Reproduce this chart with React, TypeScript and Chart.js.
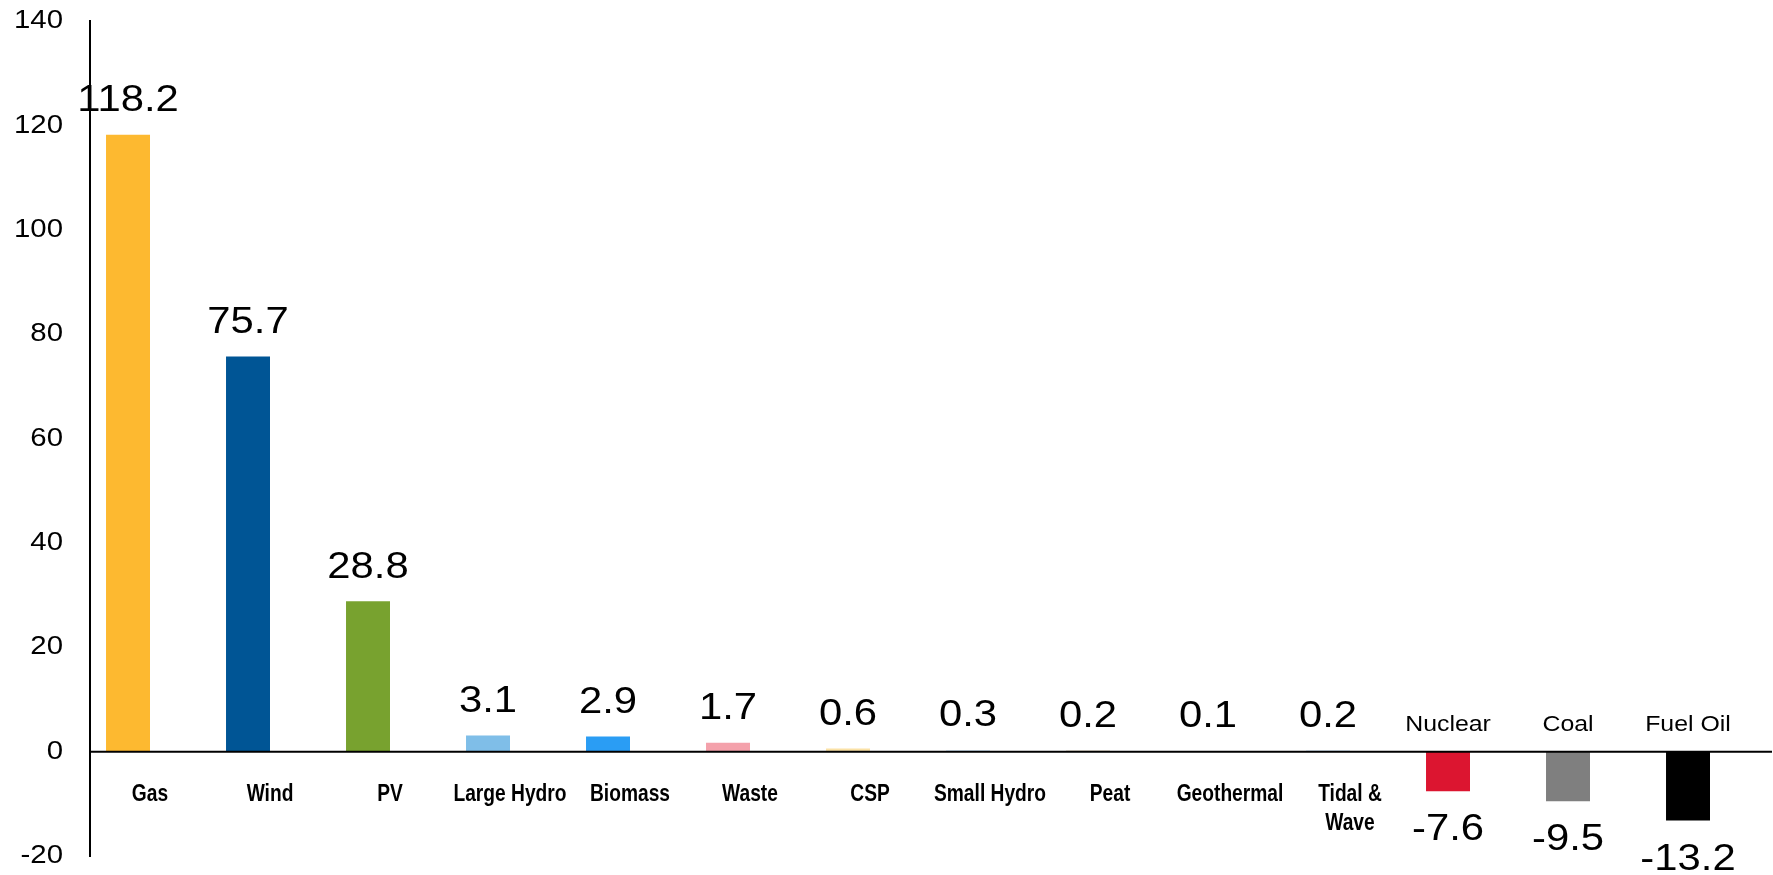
import React, { useEffect, useRef } from "react";
import { Chart, registerables } from "chart.js";

Chart.register(...registerables);

const categories = [
  "Gas", "Wind", "PV", "Large Hydro", "Biomass", "Waste", "CSP",
  "Small Hydro", "Peat", "Geothermal", "Tidal & Wave", "Nuclear", "Coal", "Fuel Oil",
];
const categoryLines = [
  ["Gas"], ["Wind"], ["PV"], ["Large Hydro"], ["Biomass"], ["Waste"], ["CSP"],
  ["Small Hydro"], ["Peat"], ["Geothermal"], ["Tidal &", "Wave"], ["Nuclear"], ["Coal"], ["Fuel Oil"],
];
const values = [118.2, 75.7, 28.8, 3.1, 2.9, 1.7, 0.6, 0.3, 0.2, 0.1, 0.2, -7.6, -9.5, -13.2];
const valueLabels = ["118.2", "75.7", "28.8", "3.1", "2.9", "1.7", "0.6", "0.3", "0.2", "0.1", "0.2", "-7.6", "-9.5", "-13.2"];
const barColors = [
  "#FDB930", "#005595", "#78A22F", "#7FBEE8", "#2A9DF4", "#F4A1AB", "#FBE2A6",
  "#D9E9F6", "#D8CBB5", "#E8C8A0", "#BFD9EE", "#DC1530", "#7F7F7F", "#000000",
];
const yMin = -20;
const yMax = 140;
const yStep = 20;

const REG = "'Liberation Sans', Arial, sans-serif";

function stretchText(ctx: CanvasRenderingContext2D, text: string, x: number, y: number, sx: number) {
  ctx.save();
  ctx.translate(x, y);
  ctx.scale(sx, 1);
  ctx.fillText(text, 0, 0);
  ctx.restore();
}

const labelPlugin = {
  id: "labelPlugin",
  afterDatasetsDraw(chart: any) {
    const ctx: CanvasRenderingContext2D = chart.ctx;
    const xs = chart.scales.x;
    const ys = chart.scales.y;
    const area = chart.chartArea;
    const y0 = ys.getPixelForValue(0);
    const meta = chart.getDatasetMeta(0);

    ctx.save();
    // zero line
    ctx.strokeStyle = "#000";
    ctx.lineWidth = 2;
    ctx.beginPath();
    ctx.moveTo(area.left, y0);
    ctx.lineTo(area.right + 2, y0);
    ctx.stroke();

    ctx.fillStyle = "#000";
    ctx.textBaseline = "middle";

    // y tick labels
    ctx.textAlign = "right";
    ctx.font = `26px ${REG}`;
    ys.ticks.forEach((t: any) => {
      const py = ys.getPixelForValue(t.value);
      stretchText(ctx, String(t.value), 63, py, 1.13);
    });

    ctx.textAlign = "center";
    meta.data.forEach((bar: any, i: number) => {
      const v = values[i];
      // value labels
      ctx.font = `37px ${REG}`;
      if (v >= 0) {
        stretchText(ctx, valueLabels[i], bar.x, bar.y - 34, 1.13);
      } else {
        stretchText(ctx, valueLabels[i], bar.x, bar.y + 39, 1.13);
      }
      // category labels
      if (v >= 0) {
        ctx.font = `bold 24px ${REG}`;
        const cx = xs.getPixelForValue(i);
        categoryLines[i].forEach((line, k) => {
          stretchText(ctx, line, cx, y0 + 43 + k * 29, 0.8);
        });
      } else {
        ctx.font = `22px ${REG}`;
        stretchText(ctx, categories[i], bar.x, y0 - 27, 1.13);
      }
    });
    ctx.restore();
  },
};

export default function App() {
  const ref = useRef<HTMLCanvasElement | null>(null);
  useEffect(() => {
    if (!ref.current) return;
    const chart = new Chart(ref.current, {
      type: "bar",
      data: {
        labels: categories,
        datasets: [
          { data: values, backgroundColor: barColors, borderWidth: 0 },
          { data: values.map(() => null), backgroundColor: "#fff", borderWidth: 0 },
        ],
      },
      options: {
        animation: false,
        responsive: true,
        maintainAspectRatio: false,
        datasets: { bar: { categoryPercentage: 0.733, barPercentage: 1.0 } },
        layout: { padding: { left: 90, right: 3, top: 21, bottom: 19 } },
        plugins: { legend: { display: false }, tooltip: { enabled: false } },
        scales: {
          x: { display: false },
          y: {
            min: yMin,
            max: yMax,
            ticks: { display: false, stepSize: yStep },
            grid: { display: false, drawTicks: false },
            border: { display: true, color: "#000", width: 2 },
          },
        },
      },
      plugins: [labelPlugin],
    });
    return () => chart.destroy();
  }, []);
  return (
    <div style={{ position: "fixed", left: 0, top: 0, width: 1773, height: 875, background: "#fff" }}>
      <canvas ref={ref} />
    </div>
  );
}
